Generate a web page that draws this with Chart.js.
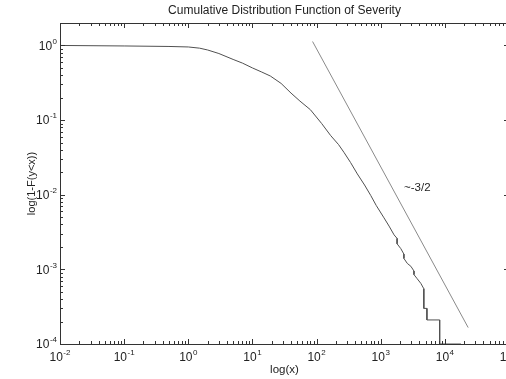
<!DOCTYPE html>
<html>
<head>
<meta charset="utf-8">
<script src="https://cdn.jsdelivr.net/npm/chart.js@4"></script>
<style>
  html, body { margin: 0; padding: 0; background: #fff; overflow: hidden; }
  #wrap { width: 506px; height: 379px; overflow: hidden; }
</style>
</head>
<body>
<div id="wrap"><canvas id="cdf" width="522" height="379"></canvas></div>
<script>
// valores
const ccdfX = [0.01, 0.1, 0.5, 1, 1.5, 2, 3, 5, 7, 10, 14, 19, 28, 40, 55, 80, 120, 166, 220, 267, 339, 432,
  560, 698, 850, 1125, 1350, 1614, 1800, 1800, 2053, 2300, 2300, 2600, 2950, 3300, 3300, 3700, 4217,
  4700, 4700, 5250, 5250, 8300, 8300, 17800];
const ccdfY = [1, 0.985, 0.97, 0.955, 0.92, 0.87, 0.78, 0.65, 0.58, 0.5, 0.44, 0.39, 0.31, 0.23, 0.18, 0.138, 0.09, 0.062, 0.047, 0.037, 0.027, 0.019,
  0.0135, 0.0098, 0.0072, 0.0049, 0.0038, 0.0029, 0.0026, 0.0022, 0.0019, 0.0016, 0.0014, 0.0012, 0.0011, 0.00095, 0.00085, 0.00075, 0.00065,
  0.00055, 0.0003, 0.0003, 0.00021, 0.00021, 0.0001, 0.0001];

// reta de referência ~ -3/2
const refX = [86.6, 23100];
const refY = [1.13, 0.000166];

const xTickExps = [-2, -1, 0, 1, 2, 3, 4, 5];
const yTickExps = [0, -1, -2, -3, -4];

const titleText = 'Cumulative Distribution Function of Severity';
const xTitle = 'log(x)';
const yTitle = 'log(1-F(y<x))';
const refLabel = '~-3/2';

const FONT = '"Liberation Sans", Arial, sans-serif';
const INK = '#222';

function toPoints(xs, ys) {
  return xs.map((x, i) => ({ x: x, y: ys[i] }));
}

// desenha "10" com expoente
function drawPow(ctx, exp, x, y, align) {
  ctx.font = '12px ' + FONT;
  const wBase = ctx.measureText('10').width;
  ctx.font = '8px ' + FONT;
  const wExp = ctx.measureText(String(exp)).width;
  const total = wBase + wExp + 0.5;
  let x0 = align === 'right' ? x - total : x - total / 2;
  ctx.textAlign = 'left';
  ctx.textBaseline = 'middle';
  ctx.font = '12px ' + FONT;
  ctx.fillText('10', x0, y);
  ctx.font = '8px ' + FONT;
  ctx.fillText(String(exp), x0 + wBase + 0.5, y - 5);
}

const axesPlugin = {
  id: 'matlabAxes',
  afterDraw(chart) {
    const ctx = chart.ctx;
    const xs = chart.scales.x;
    const ys = chart.scales.y;
    const a = chart.chartArea;
    ctx.save();

    // caixa
    ctx.strokeStyle = '#333';
    ctx.lineWidth = 1;
    ctx.beginPath();
    ctx.rect(Math.round(a.left) + 0.5, Math.round(a.top) + 0.5,
      Math.round(a.right - a.left), Math.round(a.bottom - a.top));
    ctx.stroke();

    // ticks do eixo x (baixo e cima, para dentro)
    ctx.beginPath();
    for (let e = -2; e < 5; e++) {
      for (let m = 1; m <= 10; m++) {
        const v = m * Math.pow(10, e);
        const px = Math.round(xs.getPixelForValue(v)) + 0.5;
        const len = (m === 1 || m === 10) ? 5 : 3;
        ctx.moveTo(px, a.bottom);
        ctx.lineTo(px, a.bottom - len);
        ctx.moveTo(px, a.top);
        ctx.lineTo(px, a.top + len);
      }
    }
    // ticks do eixo y (esquerda e direita)
    for (let e = -4; e < 1; e++) {
      for (let m = 1; m <= 10; m++) {
        const v = m * Math.pow(10, e);
        if (v > ys.max) continue;
        const py = Math.round(ys.getPixelForValue(v)) + 0.5;
        const len = (m === 1 || m === 10) ? 5 : 3;
        ctx.moveTo(a.left, py);
        ctx.lineTo(a.left + len, py);
        ctx.moveTo(a.right, py);
        ctx.lineTo(a.right - len, py);
      }
    }
    ctx.stroke();

    ctx.fillStyle = INK;
    xTickExps.forEach(e => {
      const px = xs.getPixelForValue(Math.pow(10, e));
      drawPow(ctx, e, px, a.bottom + 14, 'center');
    });
    yTickExps.forEach(e => {
      const py = ys.getPixelForValue(Math.pow(10, e));
      drawPow(ctx, e, a.left - 3, py + 1, 'right');
    });

    // títulos
    ctx.textAlign = 'center';
    ctx.textBaseline = 'middle';
    const cx = (a.left + a.right) / 2;
    ctx.font = '12px ' + FONT;
    ctx.fillText(titleText, cx, 11);
    ctx.font = '11.5px ' + FONT;
    ctx.fillText(xTitle, cx, 370);
    ctx.save();
    ctx.translate(32, (a.top + a.bottom) / 2);
    ctx.rotate(-Math.PI / 2);
    ctx.font = '11px ' + FONT;
    ctx.fillText(yTitle, 0, 0);
    ctx.restore();

    ctx.font = '11.5px ' + FONT;
    ctx.textAlign = 'left';
    ctx.fillText(refLabel, 404, 188);
    ctx.restore();
  }
};

new Chart(document.getElementById('cdf'), {
  type: 'scatter',
  data: {
    datasets: [
      {
        label: 'CCDF',
        data: toPoints(ccdfX, ccdfY),
        showLine: true,
        borderColor: '#505050',
        borderWidth: 1,
        pointRadius: 0,
        tension: 0
      },
      {
        label: 'ref',
        data: toPoints(refX, refY),
        showLine: true,
        borderColor: '#8a8a8a',
        borderWidth: 1,
        pointRadius: 0
      }
    ]
  },
  options: {
    responsive: false,
    animation: false,
    layout: { padding: { left: 60, top: 23, right: 13, bottom: 35 } },
    plugins: { legend: { display: false }, tooltip: { enabled: false } },
    scales: {
      x: {
        type: 'logarithmic',
        min: 0.01,
        max: 100000,
        grid: { display: false, drawTicks: false },
        border: { display: false },
        ticks: { display: false }
      },
      y: {
        type: 'logarithmic',
        min: 0.0001,
        max: 2,
        grid: { display: false, drawTicks: false },
        border: { display: false },
        ticks: { display: false }
      }
    }
  },
  plugins: [axesPlugin]
});
</script>
</body>
</html>
